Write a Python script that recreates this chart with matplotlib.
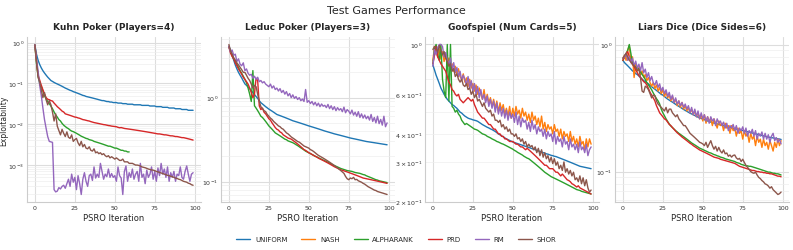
import matplotlib
matplotlib.use("Agg")
import matplotlib.pyplot as plt
import seaborn as sns

sns.set_style("whitegrid")
plt.rcParams['font.family'] = ['DejaVu Sans']

algos = ["UNIFORM", "NASH", "ALPHARANK", "PRD", "RM", "SHOR"]
colors = ["#1f77b4", "#ff7f0e", "#2ca02c", "#d62728", "#9467bd", "#8c564b"]
titles = ["Kuhn Poker (Players=4)", "Leduc Poker (Players=3)",
          "Goofspiel (Num Cards=5)", "Liars Dice (Dice Sides=6)"]

# ---- Kuhn Poker ----
kuhn_uniform = [
    0.85, 0.52, 0.37, 0.29, 0.24, 0.205, 0.18, 0.16, 0.143, 0.13,
    0.118, 0.112, 0.106, 0.101, 0.097, 0.093, 0.089, 0.085, 0.081, 0.077,
    0.074, 0.071, 0.068, 0.066, 0.063, 0.061, 0.059, 0.057, 0.055, 0.053,
    0.051, 0.050, 0.048, 0.047, 0.046, 0.045, 0.044, 0.043, 0.042, 0.041,
    0.040, 0.039, 0.038, 0.038, 0.037, 0.036, 0.036, 0.035, 0.035, 0.034,
    0.034, 0.034, 0.033, 0.033, 0.033, 0.032, 0.032, 0.032, 0.031, 0.031,
    0.031, 0.031, 0.030, 0.030, 0.030, 0.030, 0.030, 0.029, 0.029, 0.029,
    0.029, 0.029, 0.028, 0.028, 0.028, 0.028, 0.027, 0.027, 0.027, 0.027,
    0.026, 0.026, 0.026, 0.026, 0.025, 0.025, 0.025, 0.025, 0.024, 0.024,
    0.024, 0.024, 0.023, 0.023, 0.023, 0.023, 0.022, 0.022, 0.022, 0.022]
kuhn_alpharank = [
    0.85, 0.3, 0.15, 0.1, 0.085, 0.065, 0.05, 0.042, 0.036, 0.032,
    0.028, 0.024, 0.02, 0.017, 0.015, 0.013, 0.012, 0.0105, 0.0095, 0.0088,
    0.0082, 0.0078, 0.0072, 0.0068, 0.0066, 0.0063, 0.006, 0.0057, 0.0054, 0.0051,
    0.0049, 0.0047, 0.0045, 0.0044, 0.0042, 0.0041, 0.004, 0.0038, 0.0037, 0.0036,
    0.0035, 0.0034, 0.0033, 0.0032, 0.0031, 0.003, 0.0029, 0.0029, 0.0028, 0.0027,
    0.0026, 0.0026, 0.0025, 0.0024, 0.0023, 0.0023, 0.0022, 0.0022, 0.0021, 0.0021]
kuhn_prd = [
    0.85, 0.35, 0.16, 0.12, 0.09, 0.07, 0.055, 0.045, 0.041, 0.040,
    0.038, 0.037, 0.033, 0.030, 0.027, 0.025, 0.023, 0.021, 0.020, 0.018,
    0.0175, 0.017, 0.0165, 0.016, 0.0155, 0.015, 0.0148, 0.0143, 0.014, 0.0135,
    0.013, 0.0128, 0.0125, 0.0122, 0.012, 0.0116, 0.0113, 0.011, 0.0108, 0.0106,
    0.0104, 0.0102, 0.010, 0.0098, 0.0097, 0.0095, 0.0093, 0.0092, 0.0090, 0.0089,
    0.0088, 0.0087, 0.0084, 0.0082, 0.0083, 0.0081, 0.0079, 0.0078, 0.0077, 0.0076,
    0.0075, 0.0074, 0.0073, 0.0072, 0.0071, 0.0070, 0.0069, 0.0068, 0.0067, 0.0066,
    0.0065, 0.0064, 0.0063, 0.0062, 0.0061, 0.0060, 0.0059, 0.0058, 0.0058, 0.0057,
    0.0056, 0.0055, 0.0055, 0.0054, 0.0053, 0.0052, 0.0052, 0.0051, 0.0050, 0.0050,
    0.0049, 0.0048, 0.0047, 0.0047, 0.0046, 0.0045, 0.0044, 0.0043, 0.0042, 0.0041]
kuhn_rm = [
    0.9, 0.4, 0.2, 0.09, 0.05, 0.025, 0.013, 0.008, 0.005, 0.0038,
    0.0037, 0.0036, 0.00025, 0.00022, 0.00023, 0.00028, 0.00026, 0.0003, 0.00032, 0.00027,
    0.00035, 0.00045, 0.0003, 0.0006, 0.00038, 0.0005, 0.00025, 0.00055, 0.00035, 0.00019,
    0.00045, 0.00065, 0.0004, 0.0003, 0.00055, 0.0006, 0.00042, 0.0009, 0.00048, 0.0006,
    0.0005, 0.0011, 0.0007, 0.00045, 0.0006, 0.00052, 0.0008, 0.0005, 0.00062, 0.0005,
    0.00055, 0.0004, 0.0009, 0.00055, 0.00048, 0.00019, 0.0007, 0.00095, 0.0004, 0.00065,
    0.0005, 0.0008, 0.00045, 0.0006, 0.0007, 0.0004, 0.0011, 0.0005, 0.0006, 0.00035,
    0.00075, 0.0005, 0.0006, 0.0009, 0.00045, 0.0007, 0.0004, 0.00085, 0.00055, 0.0011,
    0.0006, 0.0008, 0.0005, 0.0009, 0.0004, 0.00065, 0.0005, 0.0007, 0.0004, 0.0006,
    0.00055, 0.0009, 0.0005, 0.00045, 0.0007, 0.00095, 0.0006, 0.0004, 0.0006, 0.00065]
kuhn_shor = [
    0.9, 0.35, 0.14, 0.11, 0.07, 0.045, 0.06, 0.04, 0.03, 0.038,
    0.03, 0.02, 0.012, 0.018, 0.009, 0.007, 0.0055, 0.0075, 0.006, 0.005,
    0.0065, 0.0048, 0.0045, 0.0055, 0.0038, 0.0042, 0.0045, 0.0035, 0.003, 0.0038,
    0.0028, 0.0032, 0.0026, 0.0025, 0.0028, 0.0023, 0.0022, 0.0025, 0.002, 0.0021,
    0.0019, 0.002, 0.0018, 0.0019, 0.0017, 0.0016, 0.0017, 0.0015, 0.0016, 0.0015,
    0.0014, 0.0015, 0.0014, 0.0013, 0.0013, 0.0014, 0.0012, 0.0012, 0.0012, 0.0011,
    0.0011, 0.0011, 0.00105, 0.001, 0.001, 0.00098, 0.00095, 0.0009, 0.00088, 0.00086,
    0.00083, 0.0008, 0.00078, 0.00076, 0.00075, 0.00073, 0.0007, 0.00068, 0.00066, 0.00064,
    0.00062, 0.0006, 0.00058, 0.00056, 0.00055, 0.00053, 0.00052, 0.0005, 0.00048, 0.00047,
    0.00045, 0.00044, 0.00042, 0.0004, 0.00039, 0.00038, 0.00036, 0.00035, 0.00033, 0.00032]

# ---- Leduc Poker ----
leduc_uniform = [
    4.1, 3.7, 3.2, 2.8, 2.45, 2.2, 2.0, 1.85, 1.72, 1.58,
    1.46, 1.4, 1.34, 1.28, 1.21, 1.15, 1.09, 1.03, 0.98, 0.92,
    0.87, 0.84, 0.81, 0.78, 0.755, 0.73, 0.71, 0.69, 0.67, 0.65,
    0.63, 0.62, 0.61, 0.6, 0.59, 0.58, 0.57, 0.56, 0.55, 0.54,
    0.53, 0.523, 0.516, 0.509, 0.502, 0.495, 0.488, 0.481, 0.474, 0.467,
    0.46, 0.454, 0.448, 0.442, 0.436, 0.43, 0.424, 0.418, 0.412, 0.406,
    0.40, 0.395, 0.39, 0.385, 0.38, 0.375, 0.37, 0.366, 0.362, 0.358,
    0.354, 0.35, 0.346, 0.342, 0.338, 0.334, 0.33, 0.327, 0.324, 0.321,
    0.318, 0.315, 0.312, 0.309, 0.306, 0.303, 0.30, 0.298, 0.296, 0.294,
    0.292, 0.29, 0.288, 0.286, 0.284, 0.282, 0.28, 0.278, 0.276, 0.274]
leduc_alpharank = [
    4.0, 3.6, 3.2, 2.9, 2.7, 2.5, 2.3, 2.1, 1.95, 1.8,
    1.65, 1.5, 1.3, 1.1, 0.9, 2.1, 0.8, 0.75, 0.7, 0.65,
    0.6, 0.58, 0.55, 0.52, 0.49, 0.46, 0.44, 0.42, 0.4, 0.38,
    0.37, 0.36, 0.35, 0.34, 0.33, 0.32, 0.315, 0.305, 0.3, 0.295,
    0.29, 0.283, 0.275, 0.268, 0.26, 0.252, 0.245, 0.238, 0.23, 0.225,
    0.22, 0.215, 0.21, 0.205, 0.2, 0.196, 0.192, 0.188, 0.184, 0.18,
    0.177, 0.173, 0.17, 0.166, 0.162, 0.158, 0.155, 0.152, 0.149, 0.146,
    0.143, 0.141, 0.139, 0.137, 0.135, 0.134, 0.133, 0.132, 0.13, 0.128,
    0.127, 0.126, 0.125, 0.123, 0.121, 0.12, 0.117, 0.115, 0.113, 0.111,
    0.109, 0.107, 0.105, 0.104, 0.102, 0.101, 0.1, 0.099, 0.098, 0.097]
leduc_prd = [
    4.0, 3.4, 3.1, 2.9, 2.6, 2.4, 2.2, 2.05, 1.9, 1.75,
    1.65, 1.55, 1.45, 1.3, 1.15, 1.0, 1.1, 1.7, 1.6, 0.8,
    0.72, 0.75, 0.67, 0.64, 0.6, 0.56, 0.54, 0.5, 0.47, 0.44,
    0.42, 0.41, 0.39, 0.38, 0.36, 0.35, 0.34, 0.33, 0.325, 0.32,
    0.31, 0.3, 0.29, 0.28, 0.27, 0.26, 0.25, 0.24, 0.235, 0.228,
    0.22, 0.216, 0.21, 0.205, 0.2, 0.196, 0.19, 0.186, 0.182, 0.178,
    0.174, 0.17, 0.166, 0.162, 0.158, 0.154, 0.15, 0.147, 0.144, 0.141,
    0.138, 0.136, 0.134, 0.132, 0.13, 0.128, 0.126, 0.124, 0.122, 0.12,
    0.118, 0.116, 0.114, 0.112, 0.11, 0.109, 0.108, 0.107, 0.106, 0.105,
    0.104, 0.103, 0.102, 0.101, 0.1, 0.099, 0.098, 0.097, 0.096, 0.095]
leduc_rm = [
    4.1, 3.5, 3.7, 3.2, 3.3, 2.7, 2.9, 2.5, 2.4, 2.6,
    2.1, 2.2, 1.95, 1.85, 1.9, 1.7, 1.8, 1.65, 1.75, 1.55,
    1.6, 1.5, 1.55, 1.45, 1.4, 1.35, 1.45, 1.3, 1.38, 1.25,
    1.3, 1.2, 1.28, 1.15, 1.22, 1.1, 1.18, 1.05, 1.12, 1.0,
    1.08, 0.98, 1.03, 0.95, 1.0, 0.92, 0.96, 0.9, 1.25, 0.88,
    0.92, 0.85, 0.9, 0.82, 0.88, 0.8, 0.86, 0.78, 0.84, 0.79,
    0.81, 0.76, 0.83, 0.74, 0.8, 0.72, 0.78, 0.7, 0.76, 0.71,
    0.74, 0.68, 0.77, 0.66, 0.72, 0.69, 0.64, 0.71, 0.62, 0.67,
    0.6, 0.68, 0.58, 0.64, 0.57, 0.62, 0.56, 0.6, 0.54, 0.63,
    0.52, 0.58, 0.5, 0.6, 0.49, 0.55, 0.47, 0.6, 0.45, 0.5]
leduc_shor = [
    4.3, 3.6, 3.3, 3.0, 2.8, 2.6, 2.45, 2.3, 2.15, 2.0,
    2.0, 1.85, 1.7, 1.6, 1.45, 1.3, 1.4, 1.35, 1.1, 0.9,
    0.78, 0.74, 0.7, 0.68, 0.63, 0.6, 0.57, 0.55, 0.52, 0.5,
    0.48, 0.46, 0.45, 0.43, 0.42, 0.4, 0.38, 0.37, 0.355, 0.34,
    0.33, 0.32, 0.31, 0.3, 0.295, 0.285, 0.275, 0.265, 0.26, 0.255,
    0.25, 0.24, 0.235, 0.228, 0.22, 0.212, 0.205, 0.2, 0.195, 0.19,
    0.185, 0.18, 0.175, 0.17, 0.165, 0.16, 0.155, 0.15, 0.145, 0.14,
    0.135, 0.13, 0.125, 0.115, 0.108, 0.105, 0.11, 0.108, 0.112, 0.105,
    0.106, 0.102, 0.1, 0.098, 0.095, 0.093, 0.09, 0.087, 0.085, 0.083,
    0.081, 0.079, 0.078, 0.076, 0.075, 0.074, 0.073, 0.072, 0.071, 0.07]

# ---- Goofspiel ----
goof_uniform = [
    0.81, 0.77, 0.73, 0.7, 0.67, 0.64, 0.62, 0.6, 0.585, 0.57,
    0.56, 0.55, 0.54, 0.535, 0.527, 0.52, 0.51, 0.5, 0.495, 0.487,
    0.48, 0.475, 0.47, 0.467, 0.465, 0.462, 0.46, 0.458, 0.455, 0.45,
    0.445, 0.44, 0.436, 0.432, 0.428, 0.425, 0.421, 0.418, 0.414, 0.41,
    0.405, 0.4, 0.396, 0.392, 0.388, 0.384, 0.38, 0.377, 0.374, 0.371,
    0.368, 0.366, 0.364, 0.362, 0.36, 0.358, 0.356, 0.354, 0.352, 0.35,
    0.348, 0.346, 0.344, 0.342, 0.34, 0.338, 0.336, 0.334, 0.332, 0.33,
    0.328, 0.326, 0.325, 0.323, 0.321, 0.32, 0.318, 0.317, 0.315, 0.313,
    0.311, 0.309, 0.307, 0.305, 0.303, 0.301, 0.299, 0.297, 0.295, 0.293,
    0.291, 0.289, 0.287, 0.286, 0.285, 0.284, 0.283, 0.282, 0.281, 0.28]
goof_nash = [
    0.85, 0.98, 0.92, 0.88, 0.95, 0.86, 0.93, 0.84, 0.9, 0.8,
    0.87, 0.78, 0.82, 0.76, 0.8, 0.74, 0.78, 0.72, 0.7, 0.74,
    0.68, 0.71, 0.65, 0.7, 0.64, 0.67, 0.62, 0.66, 0.6, 0.64,
    0.6, 0.57, 0.63, 0.56, 0.6, 0.55, 0.58, 0.53, 0.57, 0.52,
    0.56, 0.5, 0.55, 0.51, 0.54, 0.49, 0.52, 0.48, 0.53, 0.47,
    0.52, 0.48, 0.53, 0.49, 0.51, 0.47, 0.52, 0.48, 0.5, 0.46,
    0.49, 0.45, 0.5, 0.46, 0.48, 0.44, 0.47, 0.43, 0.48, 0.42,
    0.45, 0.41, 0.44, 0.42, 0.43, 0.4, 0.44, 0.41, 0.42, 0.39,
    0.42, 0.38, 0.41, 0.39, 0.4, 0.37, 0.41, 0.37, 0.39, 0.36,
    0.38, 0.35, 0.39, 0.36, 0.37, 0.34, 0.38, 0.35, 0.38, 0.36]
goof_alpharank = [
    0.82, 0.95, 1.0, 0.9, 0.85, 1.0, 0.7, 0.62, 0.58, 1.0,
    0.56, 1.0, 0.53, 0.52, 0.5, 0.51, 0.49, 0.48, 0.46, 0.45,
    0.44, 0.445, 0.44, 0.435, 0.43, 0.425, 0.42, 0.418, 0.415, 0.41,
    0.405, 0.4, 0.398, 0.395, 0.39, 0.387, 0.384, 0.38, 0.377, 0.374,
    0.37, 0.368, 0.365, 0.362, 0.36, 0.357, 0.354, 0.351, 0.348, 0.345,
    0.342, 0.338, 0.335, 0.331, 0.328, 0.325, 0.322, 0.318, 0.315, 0.312,
    0.31, 0.306, 0.302, 0.298, 0.294, 0.29, 0.286, 0.282, 0.278, 0.274,
    0.27, 0.267, 0.264, 0.261, 0.258, 0.256, 0.254, 0.252, 0.25, 0.248,
    0.246, 0.244, 0.242, 0.24, 0.238, 0.236, 0.234, 0.232, 0.23, 0.228,
    0.226, 0.225, 0.224, 0.222, 0.221, 0.22, 0.219, 0.218, 0.217, 0.216]
goof_prd = [
    0.82, 0.9, 0.98, 0.88, 0.85, 0.82, 0.8, 0.78, 0.76, 0.72,
    0.68, 0.66, 0.63, 0.62, 0.6, 0.59, 0.6, 0.57, 0.56, 0.55,
    0.56, 0.57, 0.58, 0.57, 0.56, 0.57, 0.54, 0.52, 0.5, 0.49,
    0.48, 0.47, 0.47, 0.46, 0.45, 0.44, 0.44, 0.43, 0.42, 0.42,
    0.41, 0.4, 0.4, 0.39, 0.39, 0.38, 0.38, 0.375, 0.37, 0.37,
    0.37, 0.365, 0.36, 0.36, 0.355, 0.35, 0.35, 0.345, 0.34, 0.345,
    0.34, 0.335, 0.33, 0.325, 0.32, 0.315, 0.31, 0.305, 0.3, 0.295,
    0.29, 0.29, 0.285, 0.28, 0.28, 0.28, 0.275, 0.27, 0.27, 0.265,
    0.26, 0.265, 0.26, 0.255, 0.25, 0.248, 0.245, 0.24, 0.238, 0.235,
    0.232, 0.235, 0.23, 0.228, 0.226, 0.224, 0.222, 0.22, 0.218, 0.216]
goof_rm = [
    0.8, 0.95, 0.9, 0.97, 1.0, 1.0, 0.98, 0.88, 0.92, 0.85,
    0.82, 0.87, 0.77, 0.83, 0.75, 0.79, 0.72, 0.76, 0.69, 0.73,
    0.7, 0.66, 0.72, 0.64, 0.69, 0.62, 0.67, 0.6, 0.65, 0.58,
    0.63, 0.57, 0.6, 0.55, 0.59, 0.53, 0.57, 0.52, 0.56, 0.5,
    0.55, 0.49, 0.53, 0.48, 0.52, 0.47, 0.51, 0.46, 0.5, 0.47,
    0.49, 0.45, 0.5, 0.44, 0.48, 0.43, 0.47, 0.45, 0.46, 0.42,
    0.45, 0.41, 0.46, 0.42, 0.44, 0.4, 0.43, 0.41, 0.42, 0.39,
    0.42, 0.38, 0.41, 0.39, 0.4, 0.37, 0.41, 0.36, 0.39, 0.37,
    0.38, 0.35, 0.39, 0.36, 0.37, 0.34, 0.38, 0.35, 0.36, 0.34,
    0.36, 0.33, 0.37, 0.34, 0.35, 0.33, 0.36, 0.32, 0.34, 0.35]
goof_shor = [
    0.95, 0.98, 0.97, 0.92, 0.99, 0.94, 0.9, 0.93, 0.87, 0.84,
    0.8, 0.82, 0.76, 0.78, 0.72, 0.74, 0.7, 0.68, 0.7, 0.66,
    0.65, 0.67, 0.63, 0.64, 0.6, 0.62, 0.58, 0.6, 0.56, 0.57,
    0.55, 0.53, 0.55, 0.52, 0.51, 0.5, 0.51, 0.48, 0.49, 0.46,
    0.46, 0.45, 0.46, 0.43, 0.44, 0.42, 0.43, 0.41, 0.42, 0.4,
    0.4, 0.39, 0.4, 0.38, 0.385, 0.37, 0.38, 0.36, 0.37, 0.35,
    0.36, 0.35, 0.355, 0.34, 0.35, 0.33, 0.345, 0.32, 0.34, 0.315,
    0.33, 0.31, 0.32, 0.3, 0.315, 0.295, 0.31, 0.29, 0.3, 0.28,
    0.29, 0.275, 0.3, 0.27, 0.28, 0.265, 0.275, 0.26, 0.27, 0.25,
    0.255, 0.245, 0.26, 0.24, 0.255, 0.235, 0.25, 0.23, 0.22, 0.225]

# ---- Liars Dice ----
liars_uniform = [
    0.75, 0.72, 0.7, 0.68, 0.66, 0.64, 0.62, 0.61, 0.59, 0.58,
    0.565, 0.55, 0.535, 0.52, 0.51, 0.5, 0.49, 0.475, 0.465, 0.455,
    0.445, 0.435, 0.425, 0.415, 0.405, 0.4, 0.39, 0.38, 0.372, 0.365,
    0.358, 0.352, 0.345, 0.338, 0.332, 0.326, 0.32, 0.314, 0.308, 0.303,
    0.298, 0.293, 0.288, 0.284, 0.28, 0.276, 0.272, 0.268, 0.265, 0.262,
    0.259, 0.256, 0.253, 0.25, 0.248, 0.245, 0.243, 0.241, 0.239, 0.237,
    0.235, 0.233, 0.231, 0.229, 0.227, 0.226, 0.224, 0.222, 0.221, 0.219,
    0.218, 0.216, 0.215, 0.213, 0.212, 0.21, 0.209, 0.207, 0.206, 0.204,
    0.203, 0.201, 0.2, 0.198, 0.197, 0.195, 0.194, 0.192, 0.191, 0.19,
    0.188, 0.187, 0.186, 0.185, 0.184, 0.183, 0.182, 0.181, 0.18, 0.179]
liars_nash = [
    0.78, 0.82, 0.75, 0.9, 0.98, 0.72, 0.8, 0.55, 0.7, 0.62,
    0.66, 0.58, 0.62, 0.55, 0.58, 0.52, 0.55, 0.5, 0.47, 0.5,
    0.45, 0.48, 0.43, 0.46, 0.41, 0.44, 0.39, 0.42, 0.38, 0.4,
    0.36, 0.39, 0.35, 0.37, 0.33, 0.36, 0.32, 0.35, 0.31, 0.33,
    0.3, 0.32, 0.29, 0.31, 0.28, 0.3, 0.27, 0.29, 0.26, 0.28,
    0.25, 0.28, 0.24, 0.27, 0.25, 0.26, 0.23, 0.26, 0.24, 0.22,
    0.25, 0.23, 0.24, 0.21, 0.24, 0.22, 0.23, 0.2, 0.23, 0.21,
    0.22, 0.19, 0.22, 0.2, 0.21, 0.18, 0.21, 0.19, 0.2, 0.17,
    0.2, 0.18, 0.19, 0.16, 0.19, 0.17, 0.18, 0.155, 0.18, 0.16,
    0.17, 0.15, 0.175, 0.16, 0.145, 0.17, 0.155, 0.18, 0.16, 0.175]
liars_alpharank = [
    0.75, 0.8, 0.85, 0.9, 1.0, 0.85, 0.7, 0.68, 0.66, 0.65,
    0.64, 0.61, 0.58, 0.56, 0.53, 0.5, 0.48, 0.46, 0.44, 0.415,
    0.395, 0.375, 0.36, 0.34, 0.31, 0.29, 0.275, 0.26, 0.248, 0.237,
    0.228, 0.222, 0.216, 0.21, 0.205, 0.2, 0.196, 0.192, 0.188, 0.184,
    0.18, 0.176, 0.172, 0.168, 0.165, 0.162, 0.159, 0.156, 0.153, 0.151,
    0.149, 0.147, 0.145, 0.143, 0.141, 0.14, 0.138, 0.136, 0.135, 0.133,
    0.132, 0.13, 0.129, 0.128, 0.126, 0.125, 0.124, 0.123, 0.122, 0.121,
    0.12, 0.118, 0.117, 0.116, 0.114, 0.113, 0.112, 0.111, 0.111, 0.11,
    0.11, 0.109, 0.108, 0.107, 0.106, 0.105, 0.104, 0.103, 0.102, 0.101,
    0.1, 0.099, 0.099, 0.098, 0.097, 0.097, 0.096, 0.096, 0.095, 0.094]
liars_prd = [
    0.75, 0.8, 0.85, 0.88, 0.8, 0.73, 0.7, 0.67, 0.63, 0.6,
    0.57, 0.55, 0.53, 0.51, 0.5, 0.48, 0.45, 0.42, 0.4, 0.38,
    0.36, 0.33, 0.31, 0.29, 0.28, 0.27, 0.26, 0.255, 0.245, 0.235,
    0.23, 0.222, 0.215, 0.208, 0.202, 0.197, 0.192, 0.187, 0.183, 0.179,
    0.175, 0.171, 0.167, 0.164, 0.16, 0.157, 0.154, 0.151, 0.148, 0.146,
    0.144, 0.142, 0.14, 0.138, 0.136, 0.134, 0.132, 0.13, 0.129, 0.128,
    0.127, 0.125, 0.124, 0.123, 0.122, 0.121, 0.12, 0.119, 0.118, 0.117,
    0.116, 0.114, 0.112, 0.11, 0.109, 0.108, 0.107, 0.106, 0.105, 0.104,
    0.103, 0.102, 0.102, 0.101, 0.1, 0.1, 0.099, 0.099, 0.098, 0.098,
    0.097, 0.097, 0.096, 0.096, 0.095, 0.094, 0.093, 0.092, 0.092, 0.091]
liars_rm = [
    0.78, 0.8, 0.85, 0.75, 0.8, 0.72, 0.78, 0.68, 0.74, 0.65,
    0.7, 0.62, 0.72, 0.6, 0.64, 0.55, 0.6, 0.52, 0.56, 0.5,
    0.48, 0.52, 0.46, 0.49, 0.43, 0.46, 0.41, 0.44, 0.39, 0.42,
    0.37, 0.4, 0.35, 0.38, 0.34, 0.36, 0.33, 0.35, 0.32, 0.34,
    0.31, 0.33, 0.29, 0.32, 0.28, 0.31, 0.27, 0.3, 0.26, 0.29,
    0.26, 0.28, 0.25, 0.27, 0.24, 0.27, 0.25, 0.26, 0.23, 0.26,
    0.24, 0.25, 0.23, 0.245, 0.22, 0.24, 0.21, 0.23, 0.22, 0.235,
    0.21, 0.23, 0.2, 0.22, 0.21, 0.225, 0.2, 0.22, 0.19, 0.21,
    0.2, 0.215, 0.19, 0.21, 0.18, 0.2, 0.19, 0.205, 0.18, 0.2,
    0.18, 0.195, 0.17, 0.19, 0.2, 0.175, 0.185, 0.17, 0.18, 0.165]
liars_shor = [
    0.78, 0.82, 0.85, 0.8, 0.75, 0.73, 0.7, 0.68, 0.66, 0.62,
    0.64, 0.55, 0.43, 0.42, 0.47, 0.46, 0.44, 0.41, 0.38, 0.4,
    0.395, 0.36, 0.34, 0.33, 0.32, 0.31, 0.3, 0.32, 0.29, 0.31,
    0.31, 0.29, 0.28, 0.27, 0.28, 0.26, 0.25, 0.24, 0.23, 0.23,
    0.22, 0.21, 0.2, 0.195, 0.19, 0.185, 0.18, 0.175, 0.17, 0.168,
    0.165, 0.16, 0.17, 0.155, 0.165, 0.175, 0.16, 0.15, 0.158, 0.145,
    0.155, 0.145, 0.14, 0.148, 0.138, 0.14, 0.132, 0.135, 0.13, 0.134,
    0.135, 0.128, 0.125, 0.127, 0.12, 0.125, 0.118, 0.112, 0.108, 0.104,
    0.1, 0.098, 0.097, 0.099, 0.094, 0.09, 0.088, 0.085, 0.083, 0.08,
    0.079, 0.077, 0.074, 0.076, 0.072, 0.07, 0.068, 0.066, 0.067, 0.069]

games = [
    {"UNIFORM": kuhn_uniform, "ALPHARANK": kuhn_alpharank, "PRD": kuhn_prd,
     "RM": kuhn_rm, "SHOR": kuhn_shor},
    {"UNIFORM": leduc_uniform, "ALPHARANK": leduc_alpharank, "PRD": leduc_prd,
     "RM": leduc_rm, "SHOR": leduc_shor},
    {"UNIFORM": goof_uniform, "NASH": goof_nash, "ALPHARANK": goof_alpharank,
     "PRD": goof_prd, "RM": goof_rm, "SHOR": goof_shor},
    {"UNIFORM": liars_uniform, "NASH": liars_nash, "ALPHARANK": liars_alpharank,
     "PRD": liars_prd, "RM": liars_rm, "SHOR": liars_shor},
]

fig, axes = plt.subplots(1, 4, figsize=(7.93, 2.51), dpi=100)
lefts = [27, 221, 425, 615]
for k, ax in enumerate(axes):
    ax.set_position([lefts[k] / 793, 1 - 203 / 251, 174 / 793, 165 / 251])
    data = games[k]
    for name, col in zip(algos, colors):
        if name in data:
            ax.plot(range(len(data[name])), data[name], color=col, lw=1.0, label=name)
    ax.set_yscale("log")
    ax.set_title(titles[k], fontsize=6.5, fontweight="bold", pad=6)
    ax.set_xlabel("PSRO Iteration", fontsize=6, labelpad=2)
    ax.set_xticks([0, 25, 50, 75, 100])
    ax.tick_params(axis="both", which="both", labelsize=4.5, pad=2, length=0,
                   labelcolor="#333333")
    ax.grid(True, which="major", color="#dddddd", lw=0.8)
    ax.grid(True, which="minor", axis="y", color="#eeeeee", lw=0.5)
    for s in ["top", "right"]:
        ax.spines[s].set_visible(False)
    for s in ["left", "bottom"]:
        ax.spines[s].set_color("#cccccc")
        ax.spines[s].set_linewidth(0.8)
axes[2].set_ylim(bottom=0.199)
axes[0].set_ylabel("Exploitability", fontsize=5.5)
axes[0].yaxis.set_label_coords(-0.11, 0.5)

handles = [plt.Line2D([], [], color=c, lw=1.0) for c in colors]
fig.legend(handles, algos, loc="center", bbox_to_anchor=(0.5, 0.043), ncol=6,
           frameon=False, fontsize=5, handlelength=2.0, handletextpad=0.7,
           columnspacing=2.0)
fig.suptitle("Test Games Performance", fontsize=8, y=0.975)

fig.savefig("out.png", dpi=100)
